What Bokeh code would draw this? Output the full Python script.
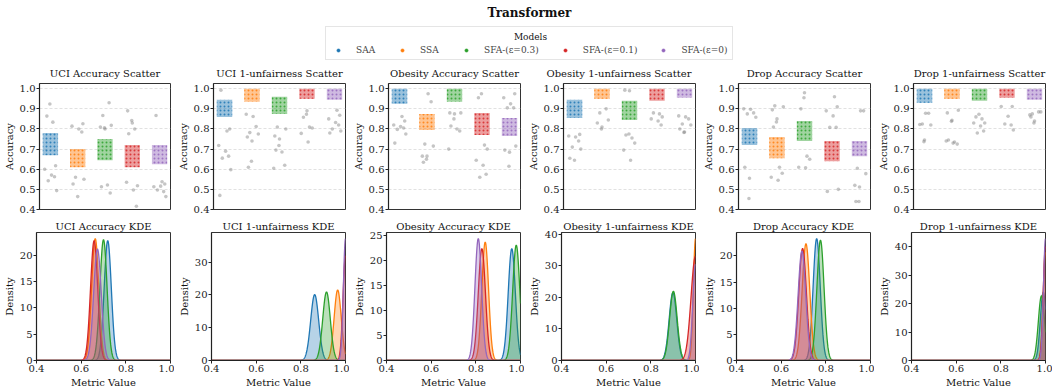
import numpy as np
from bokeh.plotting import figure
from bokeh.layouts import column, row
from bokeh.models import (Range1d, FixedTicker, PrintfTickFormatter, Legend, LegendItem, Label,
                          SingleIntervalTicker)
from bokeh.embed import file_html
from bokeh.resources import INLINE

# ---------------- data ----------------
MODELS = ["SAA", "SSA", "SFA-(ε=0.3)", "SFA-(ε=0.1)", "SFA-(ε=0)"]
COLORS = ["#1f77b4", "#ff7f0e", "#2ca02c", "#d62728", "#9467bd"]
PANELS = ["UCI Accuracy", "UCI 1-unfairness", "Obesity Accuracy",
          "Obesity 1-unfairness", "Drop Accuracy", "Drop 1-unfairness"]
SCATTER_TICKS = [0.4, 0.5, 0.6, 0.7, 0.8, 0.9, 1.0]
KDE_X_TICKS = [0.4, 0.6, 0.8, 1.0]

# dense band of each strip (low, high)
UCI_ACC_LO = [0.67, 0.61, 0.645, 0.61, 0.625]
UCI_ACC_HI = [0.78, 0.70, 0.75, 0.72, 0.72]
UCI_UNF_LO = [0.86, 0.935, 0.875, 0.95, 0.945]
UCI_UNF_HI = [0.945, 1.0, 0.96, 1.0, 1.0]
OB_ACC_LO = [0.925, 0.795, 0.935, 0.77, 0.765]
OB_ACC_HI = [1.0, 0.875, 1.0, 0.88, 0.855]
OB_UNF_LO = [0.855, 0.95, 0.845, 0.94, 0.955]
OB_UNF_HI = [0.945, 1.0, 0.94, 1.0, 1.0]
DROP_ACC_LO = [0.72, 0.655, 0.74, 0.64, 0.665]
DROP_ACC_HI = [0.805, 0.76, 0.84, 0.74, 0.74]
DROP_UNF_LO = [0.93, 0.95, 0.94, 0.955, 0.945]
DROP_UNF_HI = [1.0, 1.0, 1.0, 1.0, 1.0]

# scattered (grey) runs per model
UCI_ACC_OUT = [
    [0.924, 0.864, 0.834, 0.617, 0.600, 0.571, 0.563, 0.543, 0.494],
    [0.826, 0.814, 0.800, 0.785, 0.560, 0.550, 0.527, 0.464],
    [0.930, 0.867, 0.818, 0.810, 0.800, 0.806, 0.513, 0.522, 0.482],
    [0.890, 0.830, 0.842, 0.776, 0.800, 0.518, 0.535, 0.497, 0.416],
    [0.867, 0.538, 0.527, 0.513, 0.516, 0.489, 0.497, 0.464],
]
UCI_UNF_OUT = [
    [0.993, 0.790, 0.800, 0.718, 0.690, 0.665, 0.655, 0.598, 0.470],
    [0.873, 0.862, 0.812, 0.782, 0.775, 0.760, 0.740, 0.640, 0.610],
    [0.810, 0.800, 0.765, 0.750, 0.718, 0.695, 0.686, 0.620, 0.605],
    [0.890, 0.873, 0.858, 0.810, 0.805, 0.778, 0.735],
    [0.893, 0.868, 0.850, 0.832, 0.820, 0.800, 0.790, 0.780],
]
OB_ACC_OUT = [
    [0.862, 0.840, 0.820, 0.812, 0.805, 0.798, 0.775, 0.730],
    [0.975, 0.935, 0.725, 0.715, 0.665, 0.665, 0.650, 0.635],
    [0.880, 0.880, 0.875, 0.850, 0.815, 0.800, 0.790, 0.700],
    [0.975, 0.955, 0.720, 0.700, 0.645, 0.620, 0.575, 0.560],
    [0.975, 0.955, 0.925, 0.905, 0.905, 0.715, 0.695, 0.685, 0.615],
]
OB_UNF_OUT = [
    [0.773, 0.765, 0.760, 0.740, 0.710, 0.700, 0.655, 0.645],
    [0.900, 0.880, 0.845, 0.830, 0.810, 0.800],
    [0.993, 0.990, 0.775, 0.770, 0.755, 0.730, 0.695, 0.645],
    [0.880, 0.875, 0.860, 0.850, 0.840, 0.820],
    [0.865, 0.860, 0.850, 0.825, 0.820, 0.800, 0.785, 0.783],
]
DROP_ACC_OUT = [
    [0.900, 0.898, 0.880, 0.875, 0.858, 0.610, 0.555, 0.455],
    [0.915, 0.910, 0.895, 0.850, 0.835, 0.810, 0.610, 0.580, 0.560, 0.545],
    [0.980, 0.955, 0.900, 0.665, 0.650, 0.610, 0.607],
    [0.960, 0.910, 0.890, 0.865, 0.808, 0.808, 0.500, 0.490],
    [0.890, 0.890, 0.605, 0.578, 0.520, 0.512, 0.440, 0.440],
]
DROP_UNF_OUT = [
    [0.878, 0.878, 0.825, 0.820, 0.822, 0.745, 0.737],
    [0.893, 0.880, 0.843, 0.838, 0.745, 0.735, 0.725, 0.740, 0.730],
    [0.873, 0.860, 0.850, 0.830, 0.830, 0.815, 0.790, 0.780],
    [0.912, 0.912, 0.863, 0.820, 0.825, 0.795],
    [0.885, 0.875, 0.885, 0.870, 0.840, 0.830, 0.860],
]

# KDE peaks: centre, peak density, spread
UCI_ACC_KDE_C = [0.719, 0.663, 0.700, 0.658, 0.673]
UCI_ACC_KDE_H = [22.8, 23.2, 23.0, 22.8, 21.2]
UCI_ACC_KDE_S = [0.016, 0.016, 0.016, 0.016, 0.017]
UCI_UNF_KDE_C = [0.862, 0.965, 0.915, 1.0, 1.0]
UCI_UNF_KDE_H = [20.1, 21.5, 20.9, 32.0, 37.2]
UCI_UNF_KDE_S = [0.018, 0.016, 0.017, 0.011, 0.0095]
OB_ACC_KDE_C = [0.961, 0.842, 0.981, 0.827, 0.811]
OB_ACC_KDE_H = [22.3, 23.6, 23.0, 22.3, 24.3]
OB_ACC_KDE_S = [0.016, 0.015, 0.016, 0.016, 0.015]
OB_UNF_KDE_C = [0.899, 1.0, 0.901, 1.0, 1.0]
OB_UNF_KDE_H = [21.5, 38.6, 21.9, 33.0, 30.5]
OB_UNF_KDE_S = [0.017, 0.0095, 0.017, 0.02, 0.012]
DROP_ACC_KDE_C = [0.759, 0.711, 0.776, 0.696, 0.693]
DROP_ACC_KDE_H = [23.3, 22.3, 23.0, 21.4, 20.9]
DROP_ACC_KDE_S = [0.016, 0.017, 0.016, 0.017, 0.017]
DROP_UNF_KDE_C = [0.99, 1.0, 0.982, 1.0, 1.0]
DROP_UNF_KDE_H = [24.0, 38.0, 22.7, 40.0, 42.8]
DROP_UNF_KDE_S = [0.013, 0.010, 0.014, 0.010, 0.009]

JITTER = [-0.02, -0.13, 0.09, 0.19, -0.21, 0.04, 0.15, -0.08, 0.23, -0.17, 0.0]

BLOBS = [(UCI_ACC_LO, UCI_ACC_HI), (UCI_UNF_LO, UCI_UNF_HI), (OB_ACC_LO, OB_ACC_HI),
         (OB_UNF_LO, OB_UNF_HI), (DROP_ACC_LO, DROP_ACC_HI), (DROP_UNF_LO, DROP_UNF_HI)]
OUTS = [UCI_ACC_OUT, UCI_UNF_OUT, OB_ACC_OUT, OB_UNF_OUT, DROP_ACC_OUT, DROP_UNF_OUT]
KDES = [(UCI_ACC_KDE_C, UCI_ACC_KDE_H, UCI_ACC_KDE_S), (UCI_UNF_KDE_C, UCI_UNF_KDE_H, UCI_UNF_KDE_S),
        (OB_ACC_KDE_C, OB_ACC_KDE_H, OB_ACC_KDE_S), (OB_UNF_KDE_C, OB_UNF_KDE_H, OB_UNF_KDE_S),
        (DROP_ACC_KDE_C, DROP_ACC_KDE_H, DROP_ACC_KDE_S), (DROP_UNF_KDE_C, DROP_UNF_KDE_H, DROP_UNF_KDE_S)]

# ---------------- layout ----------------
FONT = "DejaVu Serif"
HDR_H = 60
TOP_H = 156
BOT_H = 174
FRAME_W = 134
LEFTS = [36, 37, 37, 37, 37, 37]
RIGHTS = [4, 4, 4, 4, 4, 7]
TOTAL_W = sum(LEFTS) + 6 * FRAME_W + sum(RIGHTS)


def style(p, title_standoff):
    p.title.text_font = FONT
    p.title.text_font_size = "10px"
    p.title.text_font_style = "normal"
    p.title.text_color = "#111111"
    p.title.standoff = title_standoff
    if len(p.title.text) > 25:
        p.title.align = "left"
        p.title.offset = -17
    else:
        p.title.align = "center"
    p.outline_line_color = "#333333"
    p.outline_line_alpha = 1
    p.outline_line_width = 1
    for ax in p.axis:
        ax.major_label_text_font = FONT
        ax.major_label_text_font_size = "10px"
        ax.major_label_text_color = "#222222"
        ax.axis_label_text_font = FONT
        ax.axis_label_text_font_size = "10px"
        ax.axis_label_text_font_style = "normal"
        ax.axis_label_text_color = "#111111"
        ax.major_tick_out = 3
        ax.major_tick_in = 0
        ax.minor_tick_out = 0
        ax.minor_tick_in = 0
        ax.major_tick_line_color = "#222222"
        ax.axis_line_color = "#222222"
        ax.axis_line_width = 1.2
        ax.major_label_standoff = 1
        ax.axis_label_standoff = 2


tops, bots = [], []
for i, name in enumerate(PANELS):
    w = LEFTS[i] + FRAME_W + RIGHTS[i]
    lo, hi = BLOBS[i]
    p = figure(width=w, height=TOP_H, x_range=Range1d(-0.4, 4.4), y_range=Range1d(0.4, 1.026),
               output_backend="svg", toolbar_location=None, title=name + " Scatter",
               x_axis_location=None, min_border_left=LEFTS[i], min_border_right=RIGHTS[i],
               min_border_top=22, min_border_bottom=7)
    style(p, 10)
    p.yaxis.axis_label = "Accuracy"
    p.yaxis.ticker = FixedTicker(ticks=SCATTER_TICKS)
    p.yaxis.formatter = PrintfTickFormatter(format="%.1f")
    p.xgrid.visible = False
    p.ygrid.grid_line_color = "#d9d9d9"
    p.ygrid.grid_line_dash = "3 2"
    p.ygrid.grid_line_width = 0.8
    ox, oy = [], []
    for m, vals in enumerate(OUTS[i]):
        for k, v in enumerate(vals):
            ox.append(m + JITTER[(k + 3 * m + i) % len(JITTER)])
            oy.append(v)
    p.scatter(ox, oy, size=3.6, fill_color="#7f7f7f", fill_alpha=0.45, line_color=None)
    p.vbar(x=list(range(5)), width=0.56, bottom=lo, top=hi, fill_color=COLORS, fill_alpha=0.45,
           line_color=None, hatch_pattern="dot", hatch_color=COLORS, hatch_scale=4,
           hatch_weight=2, hatch_alpha=0.85)
    tops.append(p)

    cs, hs, ss = KDES[i]
    xs = np.linspace(0.4, 1.0, 601)
    curves = [h * np.exp(-0.5 * ((xs - c) / s) ** 2) for c, h, s in zip(cs, hs, ss)]
    ymax = max(float(c.max()) for c in curves) * 1.05
    q = figure(width=w, height=BOT_H, x_range=Range1d(0.4, 1.0), y_range=Range1d(0, ymax),
               output_backend="svg", toolbar_location=None, title=name + " KDE",
               min_border_left=LEFTS[i], min_border_right=RIGHTS[i], min_border_top=16,
               min_border_bottom=27)
    style(q, 1)
    q.grid.visible = False
    q.xaxis.axis_label = "Metric Value"
    q.yaxis.axis_label = "Density"
    q.xaxis.ticker = FixedTicker(ticks=KDE_X_TICKS)
    q.xaxis.formatter = PrintfTickFormatter(format="%.1f")
    q.yaxis.ticker = SingleIntervalTicker(interval=5 if ymax < 30 else 10, num_minor_ticks=0)
    for m in range(5):
        q.varea(x=xs, y1=np.zeros_like(xs), y2=curves[m], fill_color=COLORS[m], fill_alpha=0.32)
        q.line(xs, curves[m], line_color=COLORS[m], line_width=1.3)
    bots.append(q)

# ---------------- header ----------------
hdr = figure(width=TOTAL_W, height=HDR_H,
             x_range=Range1d(0, TOTAL_W), y_range=Range1d(0, HDR_H), output_backend="svg",
             toolbar_location=None, x_axis_location=None, y_axis_location=None, min_border=0)
hdr.outline_line_color = None
hdr.grid.visible = False
hdr.add_layout(Label(x=529, y=HDR_H - 12, text="Transformer", text_align="center",
                     text_baseline="middle", text_font=FONT, text_font_style="bold",
                     text_font_size="12px", text_color="#111111"))
items = []
for m, name in enumerate(MODELS):
    r = hdr.scatter(x=np.array([np.nan]), y=np.array([np.nan]), size=4,
                    fill_color=COLORS[m], line_color="white", line_width=0.3)
    items.append(LegendItem(label=name, renderers=[r]))
leg = Legend(items=items, orientation="horizontal", location=(325, 0), title=" ",
             label_text_font=FONT, label_text_font_size="9px", title_text_font=FONT,
             title_text_font_size="9px", glyph_width=16, glyph_height=10, label_height=10,
             label_standoff=10, spacing=18, padding=4, margin=0, title_standoff=4,
             border_line_color="#cccccc", border_line_width=1, background_fill_alpha=0)
hdr.add_layout(leg, "center")
hdr.add_layout(Label(x=530, y=HDR_H - 36, text="Models", text_align="center",
                     text_baseline="middle", text_font=FONT, text_font_size="9px",
                     text_color="#111111", level="overlay"))

layout = column(hdr, row(*tops), row(*bots))
open("out.html", "w").write(file_html(layout, INLINE))
